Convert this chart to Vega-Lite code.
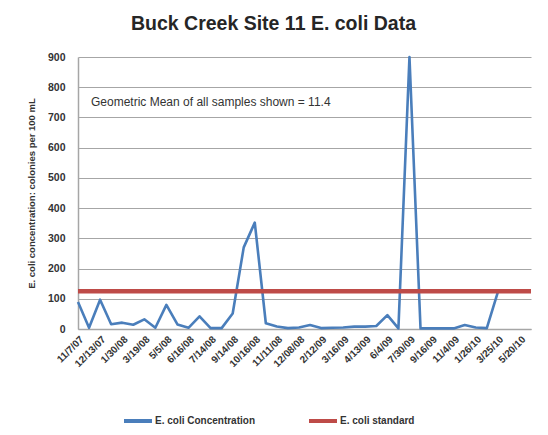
{
  "$schema": "https://vega.github.io/schema/vega-lite/v6.json",
  "width": 453,
  "height": 272,
  "autosize": {"type": "none"},
  "padding": {"left": 78, "top": 57, "right": 17, "bottom": 106},
  "background": "white",
  "title": {
    "text": "Buck Creek Site 11 E. coli Data",
    "font": "Liberation Sans",
    "fontSize": 19.5,
    "fontWeight": "bold",
    "color": "#262626",
    "anchor": "middle",
    "dx": -31,
    "offset": 18
  },
  "config": {
    "view": {"stroke": null},
    "font": "Liberation Sans",
    "axisY": {
      "tickCount": 10,
      "values": [0, 100, 200, 300, 400, 500, 600, 700, 800, 900],
      "labelOverlap": false,
      "gridColor": "#a6a6a6",
      "gridWidth": 1.2,
      "domainColor": "#a6a6a6",
      "domainWidth": 1.5,
      "ticks": false,
      "labelFontSize": 10.5,
      "labelFontWeight": "bold",
      "labelColor": "#333333",
      "labelPadding": 13,
      "titleFontSize": 9.5,
      "titleFontWeight": "bold",
      "titleColor": "#333333",
      "titlePadding": 11
    }
  },
  "data": {
    "values": [
      {"sample": "11/7/07", "conc": 89, "std": 125},
      {"sample": "sample 2", "conc": 4, "std": 125},
      {"sample": "12/13/07", "conc": 97, "std": 125},
      {"sample": "sample 4", "conc": 16, "std": 125},
      {"sample": "1/30/08", "conc": 21, "std": 125},
      {"sample": "sample 6", "conc": 14, "std": 125},
      {"sample": "3/19/08", "conc": 32, "std": 125},
      {"sample": "sample 8", "conc": 4, "std": 125},
      {"sample": "5/5/08", "conc": 80, "std": 125},
      {"sample": "sample 10", "conc": 15, "std": 125},
      {"sample": "6/16/08", "conc": 4, "std": 125},
      {"sample": "sample 12", "conc": 42, "std": 125},
      {"sample": "7/14/08", "conc": 3, "std": 125},
      {"sample": "sample 14", "conc": 3, "std": 125},
      {"sample": "9/14/08", "conc": 51, "std": 125},
      {"sample": "sample 16", "conc": 270, "std": 125},
      {"sample": "10/16/08", "conc": 352, "std": 125},
      {"sample": "sample 18", "conc": 19, "std": 125},
      {"sample": "11/11/08", "conc": 8, "std": 125},
      {"sample": "sample 20", "conc": 3, "std": 125},
      {"sample": "12/08/08", "conc": 5, "std": 125},
      {"sample": "sample 22", "conc": 13, "std": 125},
      {"sample": "2/12/09", "conc": 3, "std": 125},
      {"sample": "sample 24", "conc": 4, "std": 125},
      {"sample": "3/16/09", "conc": 5, "std": 125},
      {"sample": "sample 26", "conc": 8, "std": 125},
      {"sample": "4/13/09", "conc": 8, "std": 125},
      {"sample": "sample 28", "conc": 10, "std": 125},
      {"sample": "6/4/09", "conc": 46, "std": 125},
      {"sample": "sample 30", "conc": 2, "std": 125},
      {"sample": "7/30/09", "conc": 900, "std": 125},
      {"sample": "sample 32", "conc": 2, "std": 125},
      {"sample": "9/16/09", "conc": 2, "std": 125},
      {"sample": "sample 34", "conc": 2, "std": 125},
      {"sample": "11/4/09", "conc": 2, "std": 125},
      {"sample": "sample 36", "conc": 13, "std": 125},
      {"sample": "1/26/10", "conc": 5, "std": 125},
      {"sample": "sample 38", "conc": 3, "std": 125},
      {"sample": "3/25/10", "conc": 122, "std": 125},
      {"sample": "sample 40", "conc": null, "std": 125},
      {"sample": "5/20/10", "conc": null, "std": 125},
      {"sample": "sample 42", "conc": null, "std": 125}
    ]
  },
  "encoding": {
    "x": {
      "field": "sample",
      "type": "ordinal",
      "sort": null,
      "scale": {"padding": 0},
      "axis": {
        "title": null,
        "labelAngle": -45,
        "labelExpr": "indexof(datum.label, '/') >= 0 ? datum.label : ''",
        "labelFontSize": 10,
        "labelFontWeight": "bold",
        "labelColor": "#333333",
        "labelPadding": 5,
        "ticks": false,
        "grid": false,
        "domainColor": "#a6a6a6",
        "domainWidth": 1.5
      }
    }
  },
  "layer": [
    {
      "mark": {"type": "line", "strokeWidth": 2.6, "strokeJoin": "round"},
      "encoding": {
        "y": {
          "field": "conc",
          "type": "quantitative",
          "scale": {"domain": [0, 900], "nice": false},
          "axis": {
            "title": "E. coli concentration: colonies per 100 mL",
            "values": [0, 100, 200, 300, 400, 500, 600, 700, 800, 900],
            "tickCount": 10
          }
        },
        "color": {
          "datum": "E. coli Concentration",
          "scale": {
            "domain": ["E. coli Concentration", "E. coli standard"],
            "range": ["#4a7ebb", "#be4b48"]
          },
          "legend": {
            "title": null,
            "orient": "none",
            "direction": "horizontal",
            "legendX": 44,
            "legendY": 348,
            "symbolType": "stroke",
            "symbolSize": 784,
            "symbolStrokeWidth": 4,
            "labelFontSize": 10,
            "labelFontWeight": "bold",
            "labelColor": "#333333",
            "labelOffset": 1,
            "columnPadding": 45
          }
        }
      }
    },
    {
      "mark": {"type": "line", "strokeWidth": 4.5},
      "encoding": {
        "y": {
          "field": "std",
          "type": "quantitative",
          "axis": {
            "title": "E. coli concentration: colonies per 100 mL",
            "values": [0, 100, 200, 300, 400, 500, 600, 700, 800, 900],
            "tickCount": 10
          }
        },
        "color": {"datum": "E. coli standard"}
      }
    },
    {
      "data": {"values": [{"note": "Geometric Mean of all samples shown = 11.4"}]},
      "mark": {
        "type": "text",
        "align": "left",
        "baseline": "middle",
        "dx": 13,
        "fontSize": 12,
        "color": "#333333"
      },
      "encoding": {
        "x": {"datum": "11/7/07", "type": "ordinal"},
        "y": {
          "datum": 750,
          "type": "quantitative",
          "axis": {
            "title": "E. coli concentration: colonies per 100 mL",
            "values": [0, 100, 200, 300, 400, 500, 600, 700, 800, 900],
            "tickCount": 10
          }
        },
        "text": {"field": "note"}
      }
    }
  ]
}
